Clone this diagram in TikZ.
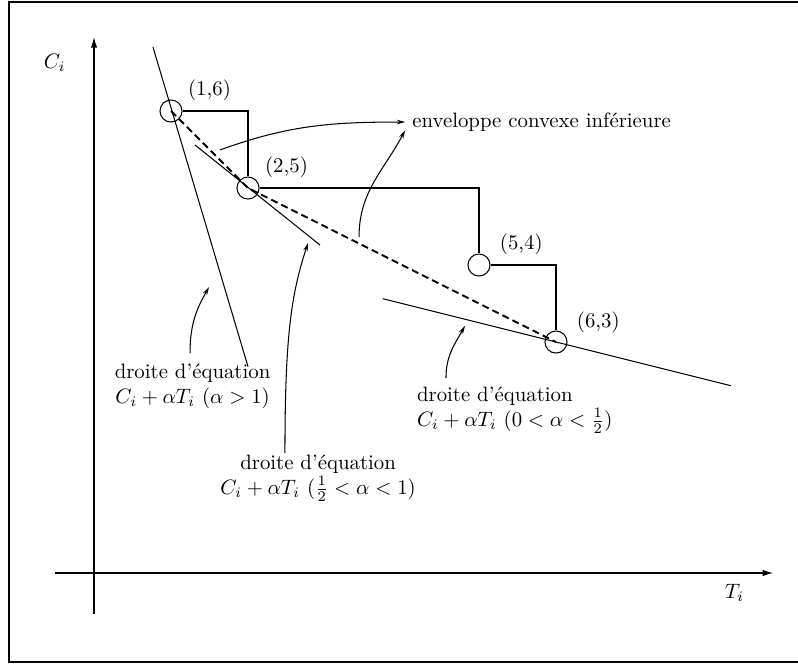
\documentclass[tikz,border=0pt]{standalone}
\usepackage{amsmath,amssymb}
\usepackage{tikz}
\usetikzlibrary{arrows.meta,positioning}

\begin{document}
\begin{tikzpicture}[x=37pt,y=37pt,
  pnt/.style={draw,circle,line width=0.5pt,minimum size=10.6pt,inner sep=0pt},
  stair/.style={line width=1pt},
  env/.style={line width=0.9pt,dash pattern=on 3.4pt off 2pt},
  fine/.style={line width=0.5pt},
  fl/.style={-{Stealth[length=4pt,width=2.2pt]},line width=0.5pt},
  ax/.style={-{Latex[length=5pt,width=3pt]},line width=0.5pt}]
\useasboundingbox (-1.221,-1.182) rectangle (9.143,7.442);
\draw[line width=1.2pt] (9.4,7.416) -- (-1.104,7.416) -- (-1.104,-1.156) -- (9.4,-1.156);
\draw[ax] (0,-0.53) -- (0,6.96);
\draw[ax] (-0.51,0) -- (8.82,0);
\node (ci) at (-0.51,6.62) {$C_i$};
\node (ti) at (8.32,-0.26) {$T_i$};
\node[pnt] (p1) at (1,6) {};
\node[pnt] (p2) at (2,5) {};
\node[pnt] (p3) at (5,4) {};
\node[pnt] (p4) at (6,3) {};
\node (t1) at ([shift={(0.5,0.27)}]p1) {(1,6)};
\node (t2) at ([shift={(0.5,0.27)}]p2) {(2,5)};
\node (t3) at ([shift={(0.55,0.27)}]p3) {(5,4)};
\node (t4) at ([shift={(0.55,0.25)}]p4) {(6,3)};
\draw[stair] (p1) -| (p2);
\draw[stair] (p2) -| (p3);
\draw[stair] (p3) -| (p4);
\draw[env] (p1.center) -- (p2.center) -- (p4.center);
\draw[fine] (0.766,6.83) -- (2.0,2.68);
\draw[fine] (1.31,5.56) -- (2.935,4.26);
\draw[fine] (3.75,3.5625) -- (8.27,2.4325);
\node[right] (env) at (4.04,5.857) {enveloppe convexe inférieure};
\coordinate (e1) at (1.636,5.494);
\coordinate (e2) at (3.442,4.364);
\draw[fl] (e1) to[out=20,in=180] (env.west);
\draw[fl] (e2) to[out=90,in=242] ([yshift=4pt]env.south west);
\node[align=center] (q1) at (1.28,2.43) {droite d’équation\\$C_i+\alpha T_i\ (\alpha>1)$};
\node[align=center] (q2) at (2.91,1.234) {droite d’équation\\$C_i+\alpha T_i\ (\frac{1}{2}<\alpha<1)$};
\node[align=left,right] (q3) at (4.10,2.117) {droite d’équation\\$C_i+\alpha T_i\ (0<\alpha<\frac{1}{2})$};
\coordinate (a1) at (1.247,2.857);
\coordinate (b1) at (1.494,3.714);
\coordinate (a2) at (2.48,1.558);
\coordinate (b2) at (2.78,4.286);
\coordinate (a3) at (4.571,2.532);
\coordinate (b3) at (4.818,3.208);
\draw[fl] (a1) to[out=90,in=240] (b1);
\draw[fl] (a2) .. controls (2.48,3.0) and (2.55,3.6) .. (b2);
\draw[fl] (a3) to[out=90,in=240] (b3);
\end{tikzpicture}
\end{document}
